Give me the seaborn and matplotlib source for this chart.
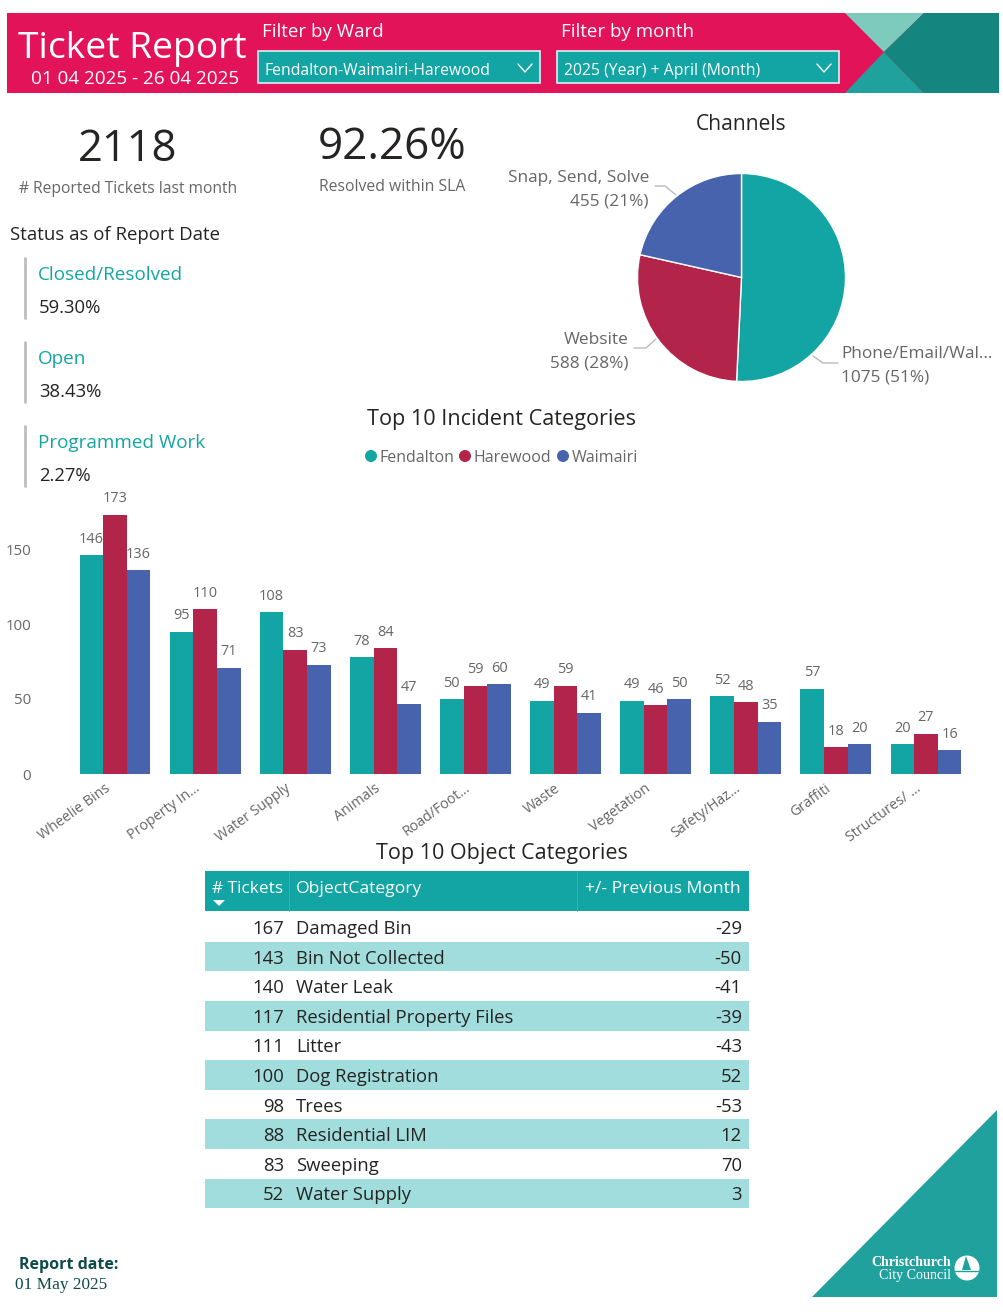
import numpy as np
import pandas as pd
import matplotlib.pyplot as plt
from matplotlib.patches import Polygon, Rectangle, Circle
from matplotlib.transforms import ScaledTranslation
import seaborn as sns

sns.set_theme(style="white")
plt.rcParams['font.family'] = ['Open Sans', 'DejaVu Sans']

TEAL = "#12A5A3"
CRIMSON = "#B3244A"
BLUE = "#4763AE"
PINK = "#E3135A"
GREY = "#666666"
DARK = "#252423"

wards = ["Fendalton", "Harewood", "Waimairi"]
categories = ["Wheelie Bins", "Property In...", "Water Supply", "Animals", "Road/Foot...",
              "Waste", "Vegetation", "Safety/Haz...", "Graffiti", "Structures/ ..."]
fendalton = [146, 95, 108, 78, 50, 49, 49, 52, 57, 20]
harewood = [173, 110, 83, 84, 59, 59, 46, 48, 18, 27]
waimairi = [136, 71, 73, 47, 60, 41, 50, 35, 20, 16]

channels = ["Phone/Email/Wal...", "Website", "Snap, Send, Solve"]
channel_counts = [1075, 588, 455]
channel_pct = [51, 28, 21]

statuses = ["Closed/Resolved", "Open", "Programmed Work"]
status_pct = ["59.30%", "38.43%", "2.27%"]

object_tickets = [167, 143, 140, 117, 111, 100, 98, 88, 83, 52]
object_names = ["Damaged Bin", "Bin Not Collected", "Water Leak", "Residential Property Files",
                "Litter", "Dog Registration", "Trees", "Residential LIM", "Sweeping", "Water Supply"]
object_change = [-29, -50, -41, -39, -43, 52, -53, 12, 70, 3]

W, H = 1004, 1312
fig = plt.figure(figsize=(W / 100, H / 100), dpi=100, facecolor="white")

# full page layer in pixel coordinates
page = fig.add_axes([0, 0, 1, 1])
page.set_xlim(0, W)
page.set_ylim(H, 0)
page.axis("off")


def px(size):
    return size * 0.72


def label(x, y, s, size, color=DARK, ha="left", va="center", **kw):
    page.text(x, y + 2, s, fontsize=px(size), color=color, ha=ha, va=va, **kw)


# header band
page.add_patch(Rectangle((7, 13), 992, 80, color=PINK, lw=0))
page.add_patch(Polygon([(845, 13), (924, 13), (884, 52)], color="#7CCBBD", lw=0))
page.add_patch(Polygon([(884, 52), (845, 93), (924, 93)], color="#21A19E", lw=0))
page.add_patch(Polygon([(924, 13), (999, 13), (999, 93), (924, 93), (884, 52)], color="#14857F", lw=0))
label(132, 47, "Ticket Report", 37.2, "white", ha="center")
label(135, 77, "01 04 2025 - 26 04 2025", 18.9, "white", ha="center")
label(262, 30, "Filter by Ward", 18.8, "white")
label(561, 30, "Filter by month", 18.8, "white")
for x0, text in [(258, "Fendalton-Waimairi-Harewood"), (557, "2025 (Year) + April (Month)")]:
    page.add_patch(Rectangle((x0, 51), 282, 32, fc=TEAL, ec="#DDEFEF", lw=1.2))
    label(x0 + 7, 69, text, 15.8, "white")
    page.plot([x0 + 260, x0 + 267, x0 + 274], [64, 72, 64], color="white", lw=1)

# KPI cards
label(128, 148, "2118", 43.5, ha="center")
label(128, 187, "# Reported Tickets last month", 15.6, GREY, ha="center")
label(392, 146, "92.26%", 44, ha="center")
label(392, 185, "Resolved within SLA", 15.7, GREY, ha="center")

label(10, 233, "Status as of Report Date", 18.6)
for i, (name, pct) in enumerate(zip(statuses, status_pct)):
    top = 258 + 84 * i
    page.plot([25, 25], [top, top + 60], color="#BDBDBD", lw=2)
    label(38, top + 15, name, 18.9, TEAL)
    label(39, top + 48, pct, 18.5)

# pie
label(741, 123, "Channels", 21, ha="center")
pie_ax = fig.add_axes([637.5 / W, 1 - 381.5 / H, 208 / W, 208 / H])
pie_ax.pie(channel_counts, colors=sns.color_palette([TEAL, CRIMSON, BLUE]),
           startangle=90, counterclock=False, radius=1.0)
pie_ax.set_xlim(-1, 1)
pie_ax.set_ylim(-1, 1)
label(841, 352, channels[0], 17.2, GREY)
label(841, 376, f"{channel_counts[0]} ({channel_pct[0]}%)", 17.2, GREY)
label(629, 338, channels[1], 17.2, GREY, ha="right")
label(629, 362, f"{channel_counts[1]} ({channel_pct[1]}%)", 17.2, GREY, ha="right")
label(649, 176, channels[2], 17.2, GREY, ha="right")
label(649, 200, f"{channel_counts[2]} ({channel_pct[2]}%)", 17.2, GREY, ha="right")
for xs, ys in [([813, 823, 838], [356, 363, 363]),
               ([656, 646, 634], [339, 348, 348]),
               ([676, 665, 655], [195, 186, 186])]:
    page.plot(xs, ys, color="#BBBBBB", lw=1)

# grouped bars
label(502, 417, "Top 10 Incident Categories", 21.6, ha="center")
df = pd.DataFrame({"category": categories, "Fendalton": fendalton,
                   "Harewood": harewood, "Waimairi": waimairi})
long_df = df.melt(id_vars="category", var_name="ward", value_name="tickets")

bar_ax = fig.add_axes([70 / W, 1 - 774 / H, 901 / W, 285 / H])
bar_ax.patch.set_alpha(0)
sns.barplot(data=long_df, x="category", y="tickets", hue="ward", hue_order=wards,
            palette=[TEAL, CRIMSON, BLUE], width=0.785, gap=0, saturation=1,
            linewidth=0, legend=False, ax=bar_ax)
for bars in bar_ax.containers:
    bar_ax.bar_label(bars, padding=6, fontsize=px(14.5), color=GREY)
bar_ax.set_ylim(0, 190)
bar_ax.set_yticks([0, 50, 100, 150])
bar_ax.set_xlabel("")
bar_ax.set_ylabel("")
sns.despine(ax=bar_ax, left=True, bottom=True)
bar_ax.tick_params(axis="y", labelsize=px(15), labelcolor=GREY, length=0, pad=28)
bar_ax.tick_params(axis="x", labelsize=px(14.3), labelcolor=GREY, length=0, pad=5)
shift = ScaledTranslation(-11 / 100, 0, fig.dpi_scale_trans)
for tick in bar_ax.get_xticklabels():
    tick.set_rotation(36)
    tick.set_ha("right")
    tick.set_rotation_mode("anchor")
    tick.set_transform(tick.get_transform() + shift)

# legend drawn as page text to keep the spacing of the report
for x0, name, color in zip([371, 465, 563], wards, [TEAL, CRIMSON, BLUE]):
    page.add_patch(Circle((x0, 456), 6, color=color, lw=0))
    label(x0 + 9, 456, name, 16, GREY)

# object table
label(502, 851, "Top 10 Object Categories", 21.5, ha="center")
page.add_patch(Rectangle((205, 871), 544, 40, color=TEAL, lw=0))
label(212, 887, "# Tickets", 17.2, "white")
label(296, 887, "ObjectCategory", 17.5, "white")
label(741, 887, "+/- Previous Month", 17.5, "white", ha="right")
page.add_patch(Polygon([(213, 900), (225, 900), (219, 906)], color="white", lw=0))
for x in [289, 577]:
    page.plot([x, x], [871, 911], color="#3BB5B3", lw=0.6)
for i, (n, name, change) in enumerate(zip(object_tickets, object_names, object_change)):
    y = 927 + 29.6 * i
    if i % 2 == 1:
        page.add_patch(Rectangle((205, y - 14.8), 544, 29.6, color="#A0DDDC", lw=0))
    label(284, y, str(n), 18.5, ha="right")
    label(296, y, name, 18.5)
    label(742, y, str(change), 18.5, ha="right")

# footer
label(19, 1263, "Report date:", 16, "#0E4A4A", fontweight="bold")
page.text(15, 1285, "01 May 2025", fontsize=px(17.3), color="#0E4A4A", family="Liberation Serif",
          ha="left", va="center")
page.add_patch(Polygon([(812, 1297), (997, 1297), (997, 1110)], color="#21A19E", lw=0))
page.text(951, 1263, "Christchurch", fontsize=px(14), color="white", family="Liberation Serif",
          fontweight="bold", ha="right", va="center")
page.text(951, 1275, "City Council", fontsize=px(14), color="white", family="Liberation Serif",
          ha="right", va="center")
page.add_patch(Circle((967, 1268), 12.5, color="white", lw=0))
page.add_patch(Polygon([(966, 1256), (962, 1270), (971, 1270)], color="#21A19E", lw=0))
page.plot([955, 979], [1271, 1271], color="#21A19E", lw=1)

fig.savefig("out.png", dpi=100)
